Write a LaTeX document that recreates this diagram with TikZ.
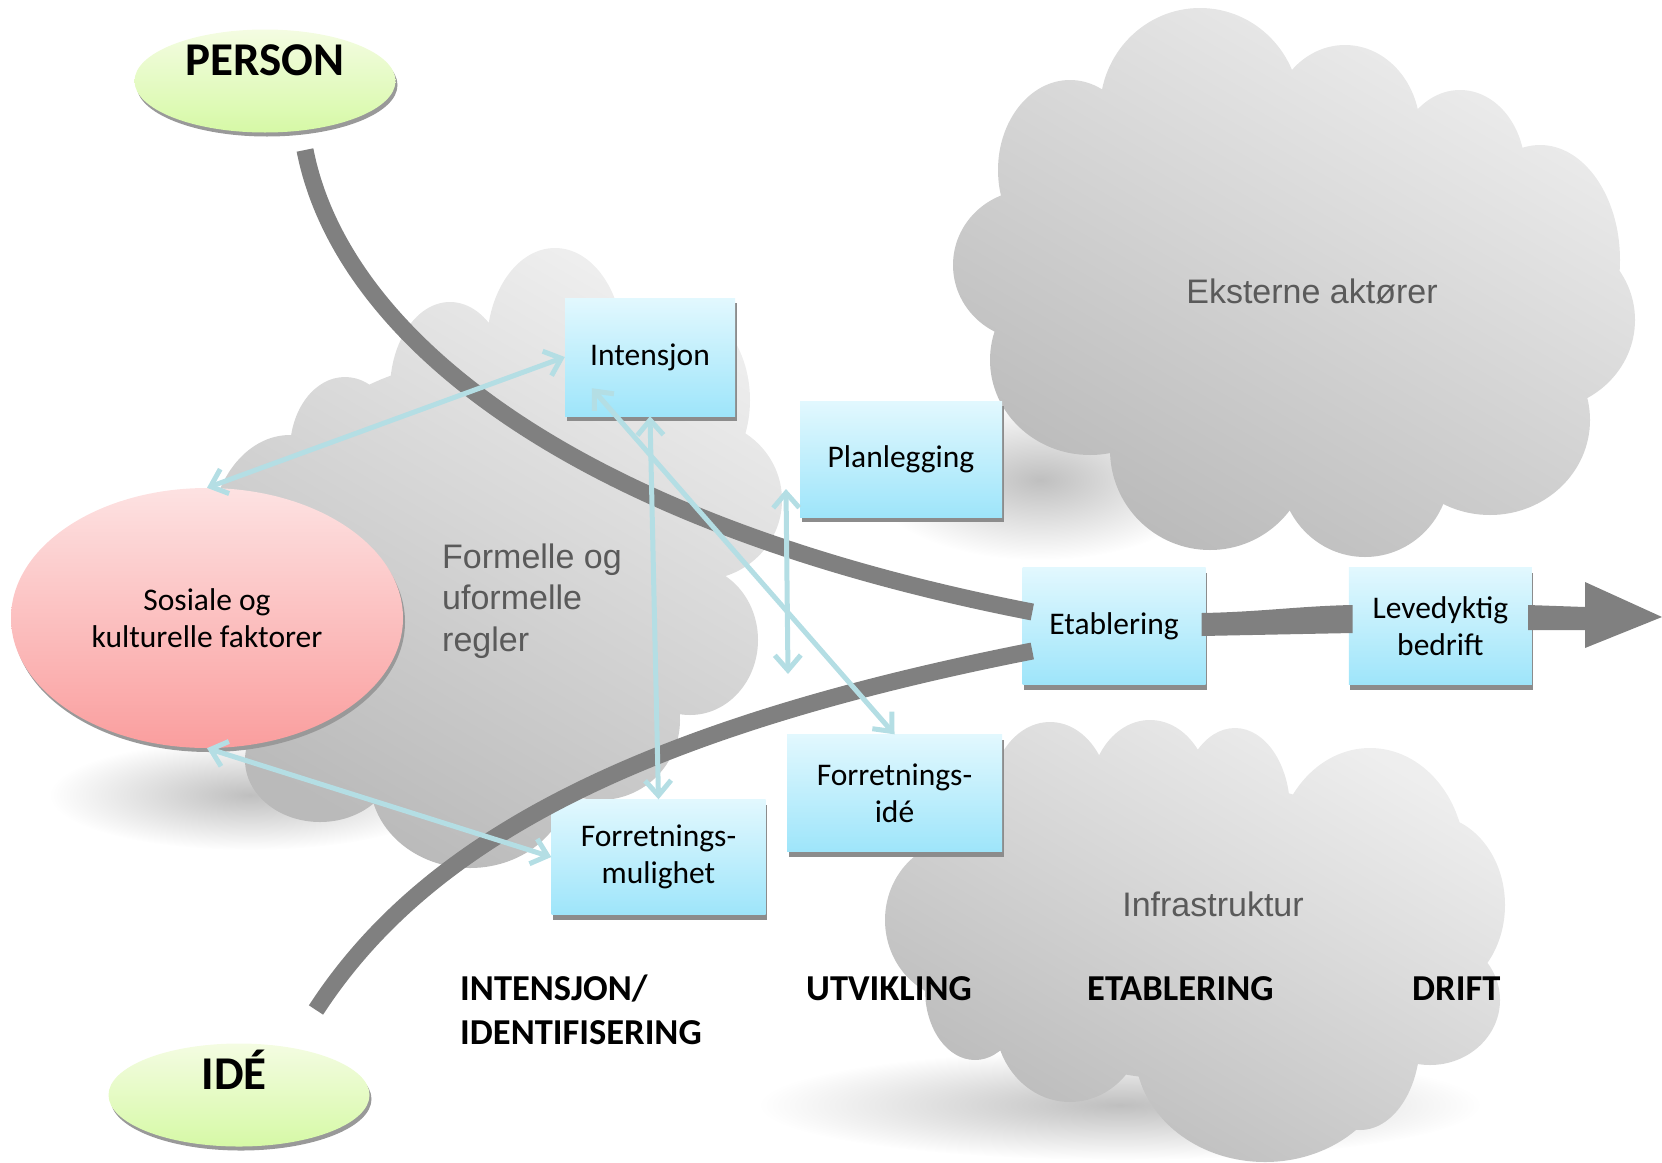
\documentclass[tikz,border=0pt]{standalone}
\usepackage{fontspec}
\setmainfont{Carlito}
\newfontfamily\arialfont{Liberation Sans}
\usetikzlibrary{arrows.meta, positioning, shapes.geometric, shadows, fadings}

\definecolor{boxtop}{RGB}{226,248,254}
\definecolor{boxbot}{RGB}{158,229,250}
\definecolor{greentop}{RGB}{244,252,226}
\definecolor{greenbot}{RGB}{214,249,166}
\definecolor{pinktop}{RGB}{253,226,226}
\definecolor{pinkbot}{RGB}{250,158,158}
\definecolor{cloudtop}{RGB}{238,238,238}
\definecolor{cloudbot}{RGB}{186,186,186}
\definecolor{bandc}{RGB}{128,128,128}
\definecolor{arrowc}{RGB}{180,222,228}
\definecolor{cloudtxt}{RGB}{90,90,90}

\tikzfading[name=softedge, inner color=transparent!0, outer color=transparent!100]

\begin{document}
\begin{tikzpicture}[x=1pt, y=-1pt,
  box/.style={rectangle, inner sep=0pt, top color=boxtop, bottom color=boxbot, align=center,
    font=\fontsize{31.5}{37}\selectfont,
    drop shadow={shadow xshift=1.5pt, shadow yshift=-5pt, fill=black!45, opacity=1}},
  blob/.style={ellipse, inner sep=0pt,
    drop shadow={shadow xshift=2pt, shadow yshift=-4pt, fill=black!40, opacity=1}},
  greenblob/.style={blob, top color=greentop, bottom color=greenbot, minimum width=261pt, minimum height=103pt},
  headtxt/.style={font=\fontsize{47}{56}\selectfont\bfseries},
  phase/.style={font=\fontsize{36.5}{44}\selectfont\bfseries, align=left, inner sep=0pt},
  cloudlbl/.style={font=\arialfont\fontsize{34}{41.5}\selectfont, text=cloudtxt, align=left, inner sep=0pt},
  cloudfill/.style={top color=cloudtop, bottom color=cloudbot, shading angle=#1},
  shadowblob/.style={fill=black, opacity=0.25, path fading=softedge},
  band/.style={draw=bandc, line width=17pt},
  arr/.style={>={Straight Barb[length=15pt, width=26pt]}, <->, draw=arrowc, line width=5pt}
]
\useasboundingbox (0,0) rectangle (1662,1162);

% shadows under the clouds
\fill[shadowblob] (250,795) ellipse (200pt and 55pt);
\fill[shadowblob] (1040,480) ellipse (170pt and 80pt);
\fill[shadowblob] (1120,1105) ellipse (360pt and 55pt);

% clouds
\shade[cloudfill=-30] foreach \cx/\cy/\rx/\ry in {290/540/80/105, 345/450/55/73, 450/390/60/88,
  555/345/68/97, 670/400/80/100, 700/500/82/80, 690/640/68/75, 600/720/80/80, 470/780/100/88,
  320/760/75/62, 275/660/60/80, 480/560/230/200} {(\cx,\cy) ellipse (\rx pt and \ry pt)};
\shade[cloudfill=-30] foreach \cx/\cy/\rx/\ry in {1200/110/100/102, 1345/130/75/85, 1460/170/65/80,
  1540/260/80/115, 1540/320/95/90, 1490/420/100/95, 1365/470/85/87, 1210/450/100/100,
  1090/360/100/95, 1030/265/77/75, 1070/170/72/90, 1290/290/250/200} {(\cx,\cy) ellipse (\rx pt and \ry pt)};
\shade[cloudfill=-30] foreach \cx/\cy/\rx/\ry in {1050/800/60/78, 1150/795/60/75, 1235/810/55/82,
  1370/860/95/112, 1430/905/75/90, 1430/1000/70/65, 1360/1040/60/90, 1265/1050/130/112,
  1070/1020/75/82, 975/990/50/70, 960/920/75/80, 980/830/70/75, 1190/930/240/150} {(\cx,\cy) ellipse (\rx pt and \ry pt)};

\node[cloudlbl, anchor=base west] (regler) at (442,651) {Formelle og\\uformelle\\regler};
\node[cloudlbl, anchor=base] (eksterne) at (1312,303) {Eksterne aktører};
\node[cloudlbl, anchor=base] (infra) at (1213,916) {Infrastruktur};

% start and end points of the two paths
\coordinate (personfoot) at (305,150);
\coordinate (ideefoot) at (316,1010);
\coordinate (tip) at (1662,617);
\coordinate (vtop) at (786,489);
\coordinate (vbot) at (788,674);

% ellipses
\node[greenblob] (person) at (265,81) {};
\node[headtxt, anchor=base] (persontxt) at (265,75) {PERSON};
\node[greenblob] (idee) at (239,1095) {};
\node[headtxt, anchor=base] (ideetxt) at (234,1089) {IDÉ};
\node[blob, top color=pinktop, bottom color=pinkbot, minimum width=392pt, minimum height=260pt,
  align=center, font=\fontsize{31.5}{37}\selectfont] (sosiale) at (207,618) {Sosiale og\\kulturelle faktorer};

% boxes
\node[box, minimum width=170pt, minimum height=118pt] (intensjon) at (650,357) {Intensjon};
\node[box, minimum width=202pt, minimum height=116pt] (planlegging) at (901,459) {Planlegging};
\node[box, minimum width=183pt, minimum height=117pt] (etablering) at (1114,626) {Etablering};
\node[box, minimum width=183pt, minimum height=117pt, right=143pt of etablering] (levedyktig) {Levedyktig\\bedrift};
\node[box, minimum width=215pt, minimum height=117pt] (forride) at (894.5,793) {Forretnings-\\idé};
\node[box, minimum width=214pt, minimum height=115pt] (forrmul) at (658.5,857) {Forretnings-\\mulighet};

% main paths
\draw[band] (personfoot) .. controls (340,330) and (560,520) .. ([xshift=10pt,yshift=14pt]etablering.west);
\draw[band] (ideefoot) .. controls (420,850) and (620,732) .. ([xshift=10pt,yshift=-25pt]etablering.west);
\fill[bandc] ([xshift=-4pt,yshift=13pt]etablering.east) .. controls (1260,612) and (1300,606) .. ([xshift=4pt,yshift=21pt]levedyktig.west)
  -- ([xshift=4pt,yshift=-7pt]levedyktig.west) -- ([xshift=-4pt,yshift=-10pt]etablering.east) -- cycle;
\fill[bandc] ([xshift=-4pt,yshift=21pt]levedyktig.east) -- (1585,607) -- (1585,582) -- (tip)
  -- (1585,648) -- (1585,630) -- ([xshift=-4pt,yshift=-4pt]levedyktig.east) -- cycle;

% phases
\node[phase, anchor=base west] (fase1) at (460,1044) {INTENSJON/\\IDENTIFISERING};
\node[phase, anchor=base west] (fase2) at (806,1000) {UTVIKLING};
\node[phase, anchor=base west] (fase3) at (1087,1000) {ETABLERING};
\node[phase, anchor=base west] (fase4) at (1412,1000) {DRIFT};

% links
\draw[arr] (sosiale.north) -- (intensjon.west);
\draw[arr] (sosiale.south) -- (forrmul.west);
\draw[arr] (intensjon.south) -- (forrmul.north);
\draw[arr] ([xshift=27pt,yshift=28pt]intensjon.south west) -- (forride.north);
\draw[arr] (vtop) -- (vbot);
\end{tikzpicture}
\end{document}
